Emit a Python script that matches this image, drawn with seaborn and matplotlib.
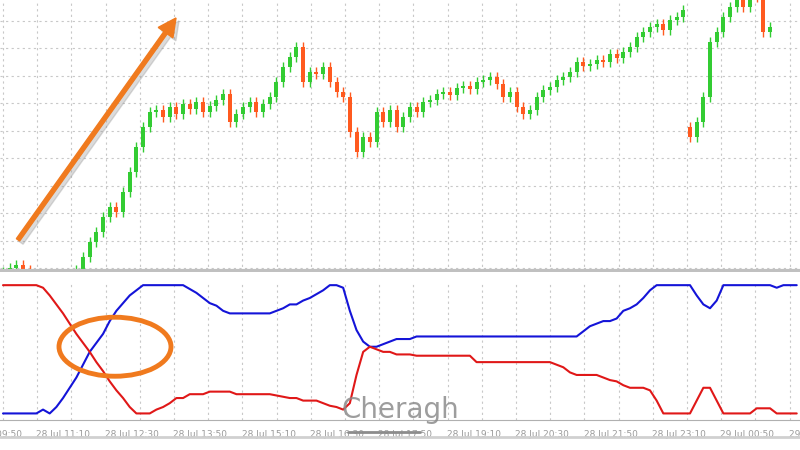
import numpy as np
import matplotlib.pyplot as plt
import seaborn as sns
from matplotlib.patches import Ellipse, FancyArrow

sns.set_style("white")
plt.rcParams['font.family'] = ['DejaVu Sans']

# close prices (arbitrary units), one per candle
closes = [0, 4, 7, 2, -3, -20, -25, -30, -28, -25,
          -15, 2, 15, 30, 40, 55, 65, 60, 80, 100,
          125, 145, 160, 162, 155, 165, 158, 168, 163, 170,
          160, 166, 172, 178, 150, 158, 165, 170, 160, 168,
          175, 190, 205, 215, 225, 190, 200, 198, 205, 190,
          180, 175, 140, 120, 135, 130, 160, 150, 162, 145,
          155, 165, 160, 170, 172, 178, 180, 177, 184, 186,
          183, 190, 192, 195, 188, 175, 180, 165, 158, 162,
          175, 182, 185, 192, 195, 200, 210, 206, 208, 212,
          210, 218, 214, 220, 225, 235, 240, 245, 248, 242,
          252, 255, 262, 135, 150, 175, 230, 240, 255, 265,
          280, 265, 285, 275, 240, 245]
gap_opens = {103: 145}
wick = 5

aroon_up = [0, 0, 0, 0, 0, 0, 3, 0, 5, 12,
            20, 28, 38, 48, 55, 62, 72, 80, 86, 92,
            96, 100, 100, 100, 100, 100, 100, 100, 97, 94,
            90, 86, 84, 80, 78, 78, 78, 78, 78, 78,
            78, 80, 82, 85, 85, 88, 90, 93, 96, 100,
            100, 98, 80, 65, 56, 52, 52, 54, 56, 58,
            58, 58, 60, 60, 60, 60, 60, 60, 60, 60,
            60, 60, 60, 60, 60, 60, 60, 60, 60, 60,
            60, 60, 60, 60, 60, 60, 60, 64, 68, 70,
            72, 72, 74, 80, 82, 85, 90, 96, 100, 100,
            100, 100, 100, 100, 92, 85, 82, 88, 100, 100,
            100, 100, 100, 100, 100, 100, 98, 100, 100, 100]
aroon_down = [100, 100, 100, 100, 100, 100, 98, 92, 85, 78,
              70, 62, 55, 48, 40, 33, 25, 18, 12, 5,
              0, 0, 0, 3, 5, 8, 12, 12, 15, 15,
              15, 17, 17, 17, 17, 15, 15, 15, 15, 15,
              15, 14, 13, 12, 12, 10, 10, 10, 8, 6,
              5, 3, 8, 30, 48, 52, 50, 48, 48, 46,
              46, 46, 45, 45, 45, 45, 45, 45, 45, 45,
              45, 40, 40, 40, 40, 40, 40, 40, 40, 40,
              40, 40, 40, 38, 36, 32, 30, 30, 30, 30,
              28, 26, 25, 22, 20, 20, 20, 18, 10, 0,
              0, 0, 0, 0, 10, 20, 20, 10, 0, 0,
              0, 0, 0, 4, 4, 4, 0, 0, 0, 0]

tick_labels = ["28 Jul 09:50", "28 Jul 11:10", "28 Jul 12:30", "28 Jul 13:50",
               "28 Jul 15:10", "28 Jul 16:30", "28 Jul 17:50", "28 Jul 19:10",
               "28 Jul 20:30", "28 Jul 21:50", "28 Jul 23:10", "29 Jul 00:50",
               "29 Jul 02:10"]

step = 6.67
xs = 3 + step * np.arange(len(closes))
xs_ind = 3 + step * np.arange(len(aroon_up))
green, red = "#33cc33", "#ff5a1f"

fig = plt.figure(figsize=(8, 4.5), dpi=100)
ax1 = fig.add_axes([0, 0.396, 1, 0.604])
ax2 = fig.add_axes([0, 0.067, 1, 0.305])

for i, c in enumerate(closes):
    o = gap_opens.get(i, closes[i - 1] if i > 0 else c - 3)
    col = green if c >= o else red
    lo, hi = min(o, c), max(o, c)
    if hi - lo < 1.5:
        hi = lo + 1.5
    ax1.vlines(xs[i], lo - wick, hi + wick, color=col, lw=1)
    ax1.bar(xs[i], hi - lo, bottom=lo, width=4, color=col, lw=0)

sns.lineplot(x=xs_ind, y=aroon_up, ax=ax2, color="#1414d8", lw=1.5)
sns.lineplot(x=xs_ind, y=aroon_down, ax=ax2, color="#e01818", lw=1.5)

label_x = -32 + 68.4 * np.arange(len(tick_labels))
ax2.set_xticks(label_x[1:], minor=True)
ax2.set_xticklabels(tick_labels[1:], minor=True, fontsize=6.5, color="#9a9a9a", ha='left')
ax2.text(label_x[0], -0.075, tick_labels[0], transform=ax2.get_xaxis_transform(),
         fontsize=6.5, color="#9a9a9a", ha='left', va='top', clip_on=False)

for ax in (ax1, ax2):
    ax.set_xticks(np.arange(3, 800, 34.2))
    ax.set_xlim(0, 800)
    ax.grid(True, axis='x', linestyle=(0, (2, 3)), color="#c8c8c8", lw=0.8)
    for s in ax.spines.values():
        s.set_visible(False)
ax1.set_ylim(0, 272)
ax1.set_yticks(np.arange(251, 0, -27.5))
ax1.grid(True, axis='y', linestyle=(0, (2, 3)), color="#c8c8c8", lw=0.8)
ax1.tick_params(length=0, labelbottom=False, labelleft=False)

# shadow + arrow
ax1.add_patch(FancyArrow(21, 272 - 243, 158, 222, width=5, head_width=18,
                         head_length=18, color="#999999", alpha=0.35,
                         length_includes_head=True, zorder=4))
ax1.add_patch(FancyArrow(18, 272 - 240, 158, 222, width=4, head_width=18,
                         head_length=18, color="#f07a1e", length_includes_head=True,
                         zorder=5))
ax1.axhline(1, color="#c0c0c0", lw=3)

ax2.set_ylim(-5, 102)
ax2.spines['bottom'].set_visible(True)
ax2.spines['bottom'].set_color("#b0b0b0")
ax2.set_yticks([])
ax2.set_xticklabels([], minor=False)
ax2.tick_params(which='major', length=0)
ax2.tick_params(which='minor', length=4, color="#b0b0b0", pad=3)
ax2.add_patch(Ellipse((115, 52), 112, 46, fill=False, ec="#f07a1e", lw=3.5,
                      zorder=5))
ax2.set_xlim(0, 800)

fig.text(0.5, 0.09, "Cheragh", fontsize=20, color="#8c8c8c", ha='center',
         va='center', alpha=0.85)
fig.add_artist(plt.Line2D([0.435, 0.525], [0.04, 0.04], color="#8c8c8c", lw=2))
fig.add_artist(plt.Line2D([0, 1], [0.028, 0.028], color="#d0d0d0", lw=2))

fig.savefig("out.png", dpi=100)
